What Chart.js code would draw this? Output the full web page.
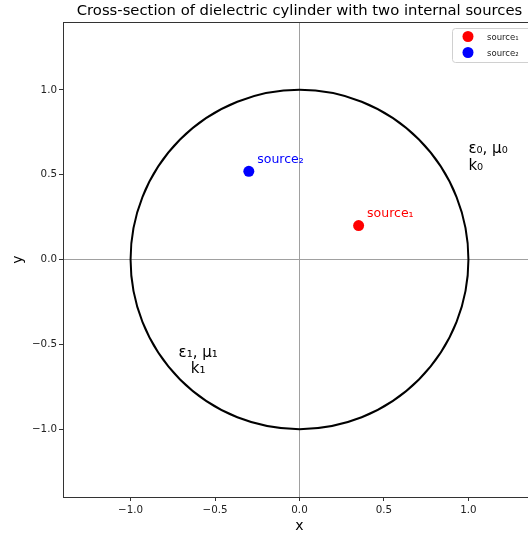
<!DOCTYPE html>
<html>
<head>
<meta charset="utf-8">
<script src="https://cdn.jsdelivr.net/npm/chart.js@4.4.1/dist/chart.umd.min.js"></script>
<style>
  html, body { margin: 0; padding: 0; background: #fff; overflow: hidden; }
  #wrap { width: 599px; height: 536px; }
</style>
</head>
<body>
<div id="wrap"><canvas id="cyl-chart" width="599" height="536"></canvas></div>
<script>
// point sources inside the cylinder
const sourceNames = ["source\u2081", "source\u2082"];
const sourceX = [0.35, -0.3];
const sourceY = [0.2, 0.52];

// cylinder boundary (unit radius, centred at origin)
const cylinderRadius = [1.0];

// region annotations
const regionText = [["\u03b5\u2080, \u03bc\u2080", "k\u2080"], ["\u03b5\u2081, \u03bc\u2081", "k\u2081"]];
const regionX = [1.0, -0.6];
const regionY = [0.6, -0.6];
const regionAlign = ["left", "center"];

const xTicks = [-1.0, -0.5, 0.0, 0.5, 1.0];
const yTicks = [-1.0, -0.5, 0.0, 0.5, 1.0];

const chartTitle = "Cross-section of dielectric cylinder with two internal sources";

const sourceColors = ["#ff0000", "#0000ff"];
const FONT = "'DejaVu Sans', sans-serif";

const fmt = v => (v < 0 ? "\u2212" + Math.abs(v).toFixed(1) : v.toFixed(1));

const datasets = sourceNames.map((name, i) => ({
    label: name,
    data: [{ x: sourceX[i], y: sourceY[i] }],
    backgroundColor: sourceColors[i],
    borderWidth: 0,
    pointRadius: 5.5,
    pointHoverRadius: 5.5
}));

const cylinderPlugin = {
    id: "cylinder",
    beforeDatasetsDraw(chart) {
        const { ctx, scales: { x, y } } = chart;
        const cx = x.getPixelForValue(0);
        const cy = y.getPixelForValue(0);
        ctx.save();
        ctx.strokeStyle = "#000";
        ctx.lineWidth = 2;
        for (const r of cylinderRadius) {
            const rx = x.getPixelForValue(r) - cx;
            const ry = cy - y.getPixelForValue(r);
            ctx.beginPath();
            ctx.ellipse(cx, cy, rx, ry, 0, 0, Math.PI * 2);
            ctx.stroke();
        }
        ctx.restore();
    },
    afterDatasetsDraw(chart) {
        const { ctx, scales: { x, y } } = chart;
        ctx.save();
        // source labels, offset up and right of each dot
        ctx.font = "12.5px " + FONT;
        chart.data.datasets.forEach((ds, i) => {
            const p = ds.data[0];
            ctx.fillStyle = ds.backgroundColor;
            ctx.textAlign = "left";
            ctx.textBaseline = "alphabetic";
            ctx.fillText(ds.label, x.getPixelForValue(p.x + 0.05), y.getPixelForValue(p.y + 0.05));
        });
        // material labels
        ctx.font = "15px " + FONT;
        ctx.fillStyle = "#000";
        ctx.textBaseline = "middle";
        regionText.forEach((lines, i) => {
            const px = x.getPixelForValue(regionX[i]);
            const py = y.getPixelForValue(regionY[i]);
            const lh = 16.5;
            ctx.textAlign = regionAlign[i];
            lines.forEach((t, j) => {
                ctx.fillText(t, px, py + (j - (lines.length - 1) / 2) * lh);
            });
        });
        ctx.restore();
    },
    afterDraw(chart) {
        const { ctx, chartArea: a } = chart;
        ctx.save();
        // title centred over the axes
        ctx.font = "14.8px " + FONT;
        ctx.fillStyle = "#000";
        ctx.textAlign = "center";
        ctx.textBaseline = "middle";
        ctx.fillText(chartTitle, (a.left + a.right) / 2, 11);

        // top and right spines
        ctx.strokeStyle = "#333";
        ctx.lineWidth = 1;
        ctx.beginPath();
        ctx.moveTo(a.left, a.top + 0.5);
        ctx.lineTo(a.right - 0.5, a.top + 0.5);
        ctx.lineTo(a.right - 0.5, a.bottom);
        ctx.stroke();

        // legend box in the upper right corner
        const boxW = 80, boxH = 34;
        const bx = a.right - 4 - boxW, by = a.top + 6;
        ctx.fillStyle = "rgba(255,255,255,0.8)";
        ctx.strokeStyle = "#d0d0d0";
        ctx.beginPath();
        ctx.roundRect(bx + 0.5, by + 0.5, boxW, boxH, 3);
        ctx.fill();
        ctx.stroke();
        ctx.font = "8.5px " + FONT;
        ctx.textAlign = "left";
        ctx.textBaseline = "middle";
        chart.data.datasets.forEach((ds, i) => {
            const ly = by + 8.5 + i * 16;
            ctx.fillStyle = ds.backgroundColor;
            ctx.beginPath();
            ctx.arc(bx + 16, ly, 5.5, 0, Math.PI * 2);
            ctx.fill();
            ctx.fillStyle = "#222";
            ctx.fillText(ds.label, bx + 35, ly + 1);
        });
        ctx.restore();
    }
};

const gridColor = c => (c.tick && c.tick.value === 0 ? "#a0a0a0" : "rgba(0,0,0,0)");

const chart = new Chart(document.getElementById("cyl-chart"), {
    type: "scatter",
    data: { datasets: datasets },
    options: {
        responsive: false,
        animation: false,
        devicePixelRatio: 1,
        layout: { padding: { left: 0, right: 63, top: 22, bottom: 0 } },
        scales: {
            x: {
                type: "linear",
                min: -1.4,
                max: 1.4,
                afterBuildTicks: s => { s.ticks = xTicks.map(v => ({ value: v })); },
                afterFit: s => { s.height = 39; },
                ticks: {
                    callback: v => fmt(v),
                    font: { family: FONT, size: 10.3 },
                    color: "#222",
                    padding: 3,
                    maxRotation: 0
                },
                grid: { color: gridColor, tickColor: "#333", tickLength: 4, lineWidth: 1 },
                border: { color: "#333", width: 1 },
                title: {
                    display: true,
                    text: "x",
                    font: { family: FONT, size: 14 },
                    color: "#000",
                    padding: { top: 0, bottom: 1 }
                }
            },
            y: {
                type: "linear",
                min: -1.4,
                max: 1.4,
                afterBuildTicks: s => { s.ticks = yTicks.map(v => ({ value: v })); },
                afterFit: s => { s.width = 63; },
                ticks: {
                    callback: v => fmt(v),
                    font: { family: FONT, size: 10.3 },
                    color: "#222",
                    padding: 2
                },
                grid: { color: gridColor, tickColor: "#333", tickLength: 4, lineWidth: 1 },
                border: { color: "#333", width: 1 },
                title: {
                    display: true,
                    text: "y",
                    font: { family: FONT, size: 14 },
                    color: "#000",
                    padding: { top: 9.5, bottom: 0 }
                }
            }
        },
        plugins: {
            legend: { display: false },
            tooltip: { enabled: false },
            title: { display: false }
        }
    },
    plugins: [cylinderPlugin]
});
</script>
</body>
</html>
